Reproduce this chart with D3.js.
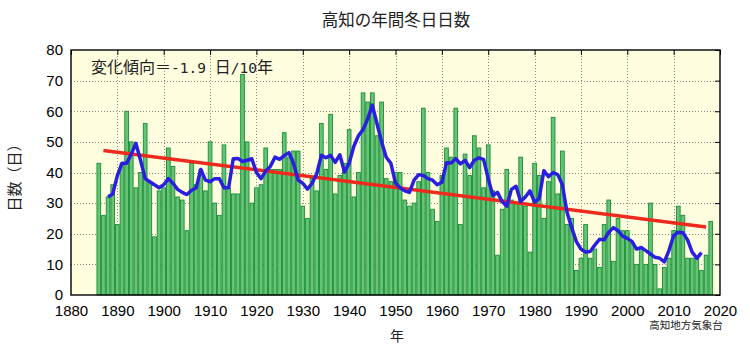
<!DOCTYPE html>
<html><head><meta charset="utf-8">
<script src="https://cdn.jsdelivr.net/npm/d3@7"></script>
<style>
body{margin:0;background:#fff}
text{font-family:"Liberation Sans",Arial,sans-serif}
.jp{font-family:"Noto Sans CJK JP","Noto Sans",sans-serif}
</style>
</head><body>
<svg id="c" width="750" height="350"></svg>
<script>
// ---- data ----
const years = d3.range(1886, 2019);
const winterDays = [
  43,26,32,36,23,43,60,50,35,40,
  56,37,19,34,35,48,42,32,31,21,
  43,36,41,34,50,30,26,49,35,33,
  33,72,50,30,35,36,48,41,41,41,
  53,45,47,47,29,25,38,34,56,41,
  59,33,39,43,54,32,40,66,63,66,
  52,63,38,37,40,40,31,29,30,37,
  61,40,28,24,39,48,45,61,23,46,
  39,52,48,35,49,34,13,28,41,31,
  30,45,29,14,43,39,25,37,58,33,
  47,23,25,8,12,23,12,15,9,23,
  31,11,25,21,21,17,10,15,10,30,
  10,2,9,12,21,29,26,12,12,12,
  8,13,24
];
const maYears = d3.range(1888, 2017);
const maValues = [
  32,33,39,43,43,46,49.5,44,38,37,
  36,35,36,38,36.5,34.5,33.5,32.8,34.2,35,
  41,37.5,37,38,38,35,35,44.5,44.6,43.6,
  44,44.5,40,38,40.5,42,45,44.3,45.5,46.5,
  43,37.5,36.5,34.6,36.5,39.5,45.6,44.8,45.6,43.3,
  45.8,40.1,43,48.5,52,54,57.5,62,56,50,
  45,43,36.5,35,34,33.5,37.5,39.3,39,38,
  37.5,36,36.8,43.2,43.1,44.5,42.8,44,41.6,44,
  44.8,44.3,38,32.5,33.5,30.5,29,34.5,35.5,30.5,
  32,34,30.3,31.5,40.6,38.6,40,39.3,36,27,
  22,17.5,15,14,14.2,16.3,18.2,18,20.5,22,
  21,19.2,18.5,17.5,15,15.5,14.5,13.4,12.3,12,
  10.8,14.6,19.4,20.5,20.3,18,14,12,13.8
];
const trendYears = [1887, 2017];
const trendValues = [47.2, 22.2];
const xTicks = d3.range(1880, 2021, 10);
const yTicks = d3.range(0, 81, 10);

const titleText = "高知の年間冬日日数";
const yLabel = "日数（日）";
const xLabel = "年";
const noteParts = [["変化傾向＝", "jp"], ["-1.9 ", "mono"], ["日", "jp"], ["/10", "mono"], ["年", "jp"]];
const sourceText = "高知地方気象台";

// ---- layout ----
const L = 71, R = 720, T = 50, B = 295;
const svg = d3.select("#c");
const x = d3.scaleLinear().domain([1880, 2020]).range([L, R]);
const y = d3.scaleLinear().domain([0, 80]).range([B, T]);

svg.append("rect").attr("x", L).attr("y", T).attr("width", R - L).attr("height", B - T)
  .attr("fill", "#ffffe0");

// grid
const grid = svg.append("g").attr("stroke", "#8a8a8a").attr("stroke-width", 1)
  .attr("stroke-dasharray", "1,2");
grid.selectAll(".gx").data(xTicks.filter(d => d > 1880 && d < 2020)).join("line")
  .attr("x1", d => Math.round(x(d)) + 0.5).attr("x2", d => Math.round(x(d)) + 0.5)
  .attr("y1", T).attr("y2", B);
grid.selectAll(".gy").data(yTicks.filter(d => d > 0 && d < 80)).join("line")
  .attr("y1", d => Math.round(y(d)) + 0.5).attr("y2", d => Math.round(y(d)) + 0.5)
  .attr("x1", L).attr("x2", R);

// bars
const step = x(1) - x(0);
const bw = step * 0.8;
svg.append("g").selectAll("rect").data(years.map((yr, i) => [yr, winterDays[i]])).join("rect")
  .attr("x", d => x(d[0]) - bw / 2)
  .attr("y", d => y(d[1]))
  .attr("width", bw)
  .attr("height", d => y(0) - y(d[1]))
  .attr("fill", "#66c474")
  .attr("stroke", "#178c38")
  .attr("stroke-width", 0.9);

// trend line
const line = d3.line().x(d => x(d[0])).y(d => y(d[1]));
svg.append("path").datum(trendYears.map((yr, i) => [yr, trendValues[i]]))
  .attr("d", line).attr("fill", "none").attr("stroke", "#ee2a1c").attr("stroke-width", 3.5);

// moving average
svg.append("path").datum(maYears.map((yr, i) => [yr, maValues[i]]))
  .attr("d", line).attr("fill", "none").attr("stroke", "#2a1ee0").attr("stroke-width", 3.5)
  .attr("stroke-linejoin", "round");

// frame
svg.append("rect").attr("x", L).attr("y", T).attr("width", R - L).attr("height", B - T)
  .attr("fill", "none").attr("stroke", "#000").attr("stroke-width", 1.4);

// inner ticks on top and right
const topAx = svg.append("g").attr("transform", `translate(0,${T})`)
  .call(d3.axisTop(x).tickValues(xTicks).tickSize(-5).tickFormat(""));
topAx.select(".domain").remove();
const rightAx = svg.append("g").attr("transform", `translate(${R},0)`)
  .call(d3.axisRight(y).tickValues(yTicks).tickSize(-5).tickFormat(""));
rightAx.select(".domain").remove();
svg.selectAll(".tick line").attr("stroke", "#000");

// labeled axes
const leftAx = svg.append("g").attr("transform", `translate(${L},0)`)
  .call(d3.axisLeft(y).tickValues(yTicks).tickSize(0).tickPadding(8));
leftAx.select(".domain").remove();
leftAx.selectAll("text").attr("font-size", 15).attr("fill", "#000")
  .style("font-family", '"Liberation Sans", Arial, sans-serif');

const botAx = svg.append("g").attr("transform", `translate(0,${B})`)
  .call(d3.axisBottom(x).tickValues(xTicks).tickSize(0).tickPadding(10).tickFormat(d3.format("d")));
botAx.select(".domain").remove();
botAx.selectAll("text").attr("font-size", 15).attr("fill", "#000")
  .style("font-family", '"Liberation Sans", Arial, sans-serif');

// texts
svg.append("text").attr("class", "jp").attr("x", 396).attr("y", 26).attr("text-anchor", "middle")
  .attr("font-size", 16.5).attr("fill", "#222").text(titleText);
svg.append("text").attr("class", "jp").attr("transform", "translate(20,174) rotate(-90)")
  .attr("text-anchor", "middle").attr("font-size", 15).attr("fill", "#222").text(yLabel);
svg.append("text").attr("class", "jp").attr("x", 397).attr("y", 341).attr("text-anchor", "middle")
  .attr("font-size", 14).attr("fill", "#222").text(xLabel);
svg.append("text").attr("class", "jp").attr("x", 686).attr("y", 329).attr("text-anchor", "middle")
  .attr("font-size", 10.5).attr("fill", "#222").text(sourceText);
const note = svg.append("text").attr("x", 91).attr("y", 73).attr("font-size", 16).attr("fill", "#222")
  .attr("xml:space", "preserve");
note.selectAll("tspan").data(noteParts).join("tspan")
  .style("font-family", d => d[1] === "mono" ? '"DejaVu Sans Mono", "Liberation Mono", monospace' : '"Noto Sans CJK JP", sans-serif')
  .attr("font-size", d => d[1] === "mono" ? 14.5 : 16)
  .text(d => d[0]);
</script>
</body></html>
